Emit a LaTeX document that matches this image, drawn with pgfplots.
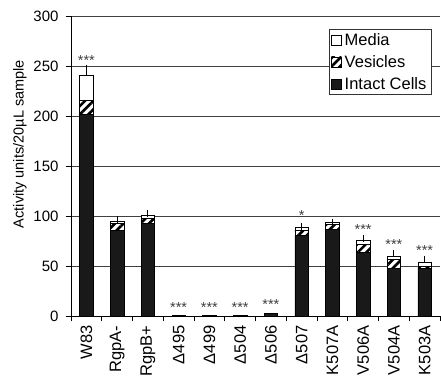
\documentclass[border=0pt]{standalone}
\usepackage{pgfplots}
\pgfplotsset{compat=1.18}
\usepackage{pgfplotstable}
\usepackage{fontspec}
\setmainfont{Liberation Sans}
\usetikzlibrary{patterns.meta}
\tikzset{
  vesfill/.style={fill=white, postaction={pattern={Lines[angle=45,distance=6pt,line width=2.6pt]}}},
  star/.style={font=\fontsize{14.5}{14.5}\selectfont, text=black!75, yshift=-3pt},
}

\pgfplotstableread{
x intact ves media
0 202 14 25
1 86 7 1.5
2 93 5 3
3 0.4 0 0
4 0.4 0 0
5 0.4 0 0
6 2.5 0 0
7 81 5 2.5
8 87 5 1.5
9 64 8 4
10 48 9 3
11 48 2 4
}\bars

\pgfplotstableread{
x total err
0 241 6
1 94.5 2.5
2 101 1.2
7 88.5 0.8
8 93.5 0.5
9 76 1.8
10 60 2.5
11 54 3
}\errs

\begin{document}
\begin{tikzpicture}
\begin{axis}[
  scale only axis, width=369pt, height=300pt,
  xmin=-0.5, xmax=11.5, ymin=0, ymax=300,
  ybar stacked, bar width=13.7pt,
  axis x line*=bottom, axis y line*=left,
  axis line style={line width=0.9pt, -},
  ytick={0,50,...,300},
  ymajorgrids, grid style={black!75, line width=0.9pt},
  xtick={-0.5,0.5,...,11.5}, xticklabels={},
  extra x ticks={0,1,2,3,4,5,6,7,8,9,10,11},
  extra x tick labels={W83,RgpA-,RgpB+,Δ495,Δ499,Δ504,Δ506,Δ507,K507A,V506A,V504A,K503A},
  extra x tick style={major tick length=0pt, grid=none,
     tick label style={rotate=90, anchor=east, font=\fontsize{16.5}{18}\selectfont}},
  xticklabel shift=6pt,
  yticklabel shift=4pt,
  tick align=outside, major tick length=5pt,
  tick style={black, line width=0.8pt},
  /pgf/number format/assume math mode=true,
  yticklabel style={font=\fontsize{15}{16}\selectfont},
  ylabel={Activity units/20µL sample},
  ylabel style={font=\fontsize{14.5}{16}\selectfont, at={(ticklabel cs:0.573)}},
  reverse legend,
  legend cell align=left,
  legend image code/.code={\draw[#1, draw=black, line width=0.5pt] (0pt,-5pt) rectangle (10pt,5pt);},
  legend style={at={(rel axis cs:0.699,0.957)}, anchor=north west,
     draw=black!80, line width=0.6pt, font=\fontsize{16.5}{18}\selectfont,
     row sep=4.5pt, inner sep=2pt,
     nodes={inner xsep=3pt}},
]
\addplot[fill=black!90, draw=black, line width=0.5pt] table[x=x, y=intact] {\bars};
\addlegendentry{Intact Cells}
\addplot[vesfill, draw=black, line width=0.5pt] table[x=x, y=ves] {\bars};
\addlegendentry{Vesicles}
\addplot[fill=white, draw=black, line width=0.5pt] table[x=x, y=media] {\bars};
\addlegendentry{Media}
\coordinate (bl) at (rel axis cs:0,0);
\coordinate (tr) at (rel axis cs:1,1);
\node[star] at (axis cs:0,258) {***};
\node[star] at (axis cs:3,11) {***};
\node[star] at (axis cs:4,11) {***};
\node[star] at (axis cs:5,11) {***};
\node[star] at (axis cs:6,14) {***};
\node[star] at (axis cs:7,103) {*};
\node[star] at (axis cs:9,89) {***};
\node[star] at (axis cs:10,74) {***};
\node[star] at (axis cs:11,68) {***};
\end{axis}
\begin{axis}[
  scale only axis, width=369pt, height=300pt,
  xmin=-0.5, xmax=11.5, ymin=0, ymax=300, hide axis]
\addplot[draw=none, mark=none,
  error bars/.cd, y dir=plus, y explicit,
  error bar style={draw=black, line width=0.8pt},
  error mark options={draw=black, line width=0.8pt, mark size=3.5pt}]
  table[x=x, y=total, y error=err] {\errs};
\end{axis}
\pgfresetboundingbox
\path[use as bounding box] ([shift={(-71pt,-65pt)}]bl) rectangle ([shift={(1pt,16pt)}]tr);
\end{tikzpicture}
\end{document}
